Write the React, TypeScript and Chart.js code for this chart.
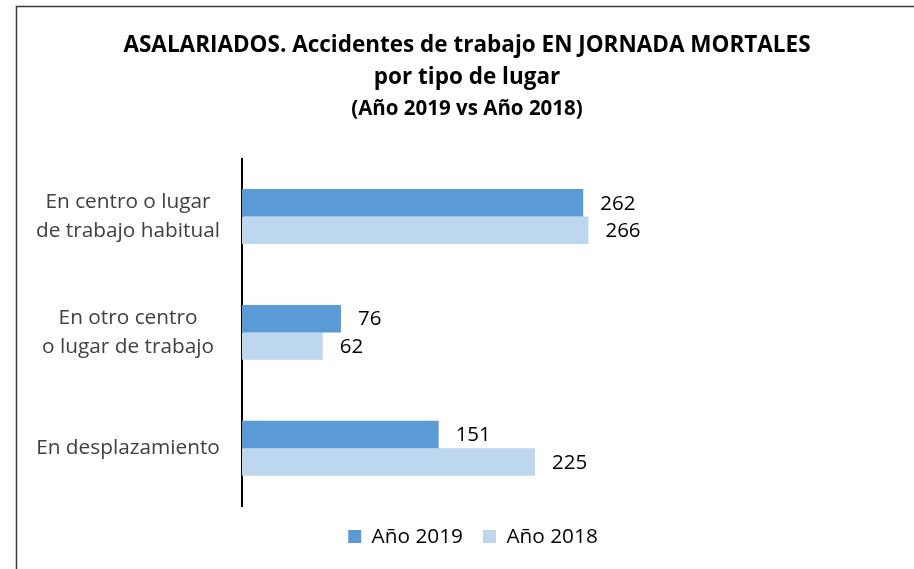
import React, { useEffect, useRef } from "react";
import { Chart, registerables } from "chart.js";

Chart.register(...registerables);

const categories: (string | string[])[] = [
  ["En centro o lugar", "de trabajo habitual"],
  ["En otro centro", "o lugar de trabajo"],
  "En desplazamiento",
];
const values2019 = [262, 76, 151];
const values2018 = [266, 62, 225];
const seriesNames = ["Año 2019", "Año 2018"];
const titleLines = ["ASALARIADOS. Accidentes de trabajo EN JORNADA MORTALES", "por tipo de lugar"];
const subtitleText = "(Año 2019 vs Año 2018)";

const FONT = "'Open Sans'";

const framePlugin = {
  id: "frame",
  afterLayout(chart: any) {
    if (chart.legend) {
      chart.legend.left += 6;
      chart.legend.right += 6;
    }
  },
  beforeDraw(chart: any) {
    const ctx = chart.ctx;
    ctx.save();
    ctx.fillStyle = "#ffffff";
    ctx.fillRect(0, 0, chart.width, chart.height);
    ctx.strokeStyle = "#3c3c3c";
    ctx.lineWidth = 1.5;
    ctx.beginPath();
    ctx.moveTo(16.5, chart.height);
    ctx.lineTo(16.5, 6.5);
    ctx.lineTo(chart.width, 6.5);
    ctx.stroke();
    ctx.restore();
  },
};

const valueLabelPlugin = {
  id: "valueLabels",
  afterDatasetsDraw(chart: any) {
    const ctx = chart.ctx;
    ctx.save();
    ctx.font = `20.5px ${FONT}`;
    ctx.fillStyle = "#000000";
    ctx.textAlign = "left";
    ctx.textBaseline = "middle";
    chart.data.datasets.forEach((ds: any, di: number) => {
      const meta = chart.getDatasetMeta(di);
      meta.data.forEach((el: any, i: number) => {
        ctx.fillText(String(ds.data[i]), el.x + 17, el.y + 1);
      });
    });
    ctx.restore();
  },
};

export default function App() {
  const ref = useRef<HTMLCanvasElement | null>(null);
  useEffect(() => {
    if (!ref.current) return;
    const chart = new Chart(ref.current, {
      type: "bar",
      data: {
        labels: categories,
        datasets: [
          {
            label: seriesNames[0],
            data: values2019,
            backgroundColor: "#5B9BD5",
            borderWidth: 0,
          },
          {
            label: seriesNames[1],
            data: values2018,
            backgroundColor: "#BDD7EE",
            borderWidth: 0,
          },
        ],
      },
      options: {
        indexAxis: "y",
        responsive: false,
        animation: false,
        layout: { padding: { left: 20, right: 0, top: 0, bottom: 12 } },
        datasets: {
          bar: { categoryPercentage: 0.474, barPercentage: 1 },
        },
        scales: {
          x: {
            display: false,
            min: 0,
            max: 516,
          },
          y: {
            grid: { display: false, drawTicks: false },
            border: { display: true, color: "#000000", width: 2 },
            ticks: {
              color: "#404040",
              font: { family: FONT, size: 20.8, lineHeight: 1.39 },
              padding: 22,
              crossAlign: "center",
            },
            afterFit(scale: any) {
              scale.width = 222;
            },
          },
        },
        plugins: {
          title: {
            display: true,
            text: titleLines,
            color: "#000000",
            font: { family: FONT, size: 22.5, weight: "bold", lineHeight: 1.42 },
            padding: { top: 30, bottom: 0 },
          },
          subtitle: {
            display: true,
            text: subtitleText,
            color: "#000000",
            font: { family: FONT, size: 20.5, weight: "bold", lineHeight: 1.3 },
            padding: { top: 2, bottom: 36 },
          },
          legend: {
            position: "bottom",
            labels: {
              color: "#000000",
              font: { family: FONT, size: 20.8 },
              boxWidth: 13,
              boxHeight: 13,
              padding: 20,
            },
          },
          tooltip: { enabled: false },
        },
      },
      plugins: [framePlugin, valueLabelPlugin],
    });
    return () => chart.destroy();
  }, []);
  return (
    <div style={{ position: "absolute", left: 0, top: 0, width: 914, height: 569 }}>
      <canvas ref={ref} width={914} height={569} style={{ width: 914, height: 569 }} />
    </div>
  );
}
